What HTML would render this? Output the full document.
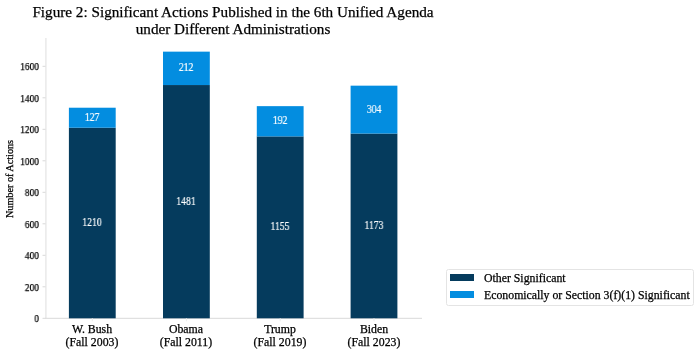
<!DOCTYPE html>
<html><head><meta charset="utf-8"><style>
html,body{margin:0;padding:0;background:#fff;}
body{width:699px;height:354px;position:relative;overflow:hidden;font-family:"Liberation Serif",serif;color:#000;}
svg{position:absolute;left:0;top:0;}
.title,.yl,.bl,.xl,.ylab,.lt{will-change:transform;-webkit-text-stroke:0.25px currentColor;}
.bl{-webkit-text-stroke:0.2px #fff;transform:scaleX(0.84);}
.yl{transform:scaleX(0.9);transform-origin:100% 50%;}
.title{position:absolute;left:0;top:4px;width:466px;text-align:center;font-size:15.2px;line-height:16.9px;color:#000;}
.yl{position:absolute;left:0;width:39px;text-align:right;font-size:10.5px;line-height:14px;}
.bl{position:absolute;width:60px;text-align:center;font-size:11.5px;line-height:14px;color:#fff;}
.xl{position:absolute;top:323px;width:80px;text-align:center;font-size:11.8px;line-height:13px;}
.ylab{position:absolute;left:-39.6px;top:171.5px;width:100px;text-align:center;font-size:10.2px;line-height:14px;transform:rotate(-90deg);}
.legend{position:absolute;left:446.2px;top:268.8px;width:247.4px;height:37.4px;border:1.2px solid #e4e4e4;border-radius:2.5px;box-sizing:border-box;}
.sw{position:absolute;left:450px;width:24px;height:7.3px;}
.lt{position:absolute;left:483.8px;font-size:11.8px;line-height:14px;}
</style></head><body>
<svg width="699" height="354" viewBox="0 0 699 354">
<line x1="45.9" y1="38" x2="45.9" y2="318.3" stroke="#e9e9e9" stroke-width="1.5"/>
<line x1="45" y1="318.3" x2="422" y2="318.3" stroke="#d9d9d9" stroke-width="1"/>
<line x1="42.5" y1="318.30" x2="45.5" y2="318.30" stroke="#d9d9d9" stroke-width="1"/>
<line x1="42.5" y1="286.80" x2="45.5" y2="286.80" stroke="#d9d9d9" stroke-width="1"/>
<line x1="42.5" y1="255.30" x2="45.5" y2="255.30" stroke="#d9d9d9" stroke-width="1"/>
<line x1="42.5" y1="223.80" x2="45.5" y2="223.80" stroke="#d9d9d9" stroke-width="1"/>
<line x1="42.5" y1="192.30" x2="45.5" y2="192.30" stroke="#d9d9d9" stroke-width="1"/>
<line x1="42.5" y1="160.80" x2="45.5" y2="160.80" stroke="#d9d9d9" stroke-width="1"/>
<line x1="42.5" y1="129.30" x2="45.5" y2="129.30" stroke="#d9d9d9" stroke-width="1"/>
<line x1="42.5" y1="97.80" x2="45.5" y2="97.80" stroke="#d9d9d9" stroke-width="1"/>
<line x1="42.5" y1="66.30" x2="45.5" y2="66.30" stroke="#d9d9d9" stroke-width="1"/>
<rect x="68.9" y="127.73" width="46.8" height="190.57" fill="#053b5d"/>
<rect x="68.9" y="107.72" width="46.8" height="20.00" fill="#038de0"/>
<line x1="92.30" y1="318.3" x2="92.30" y2="321.3" stroke="#ececec" stroke-width="1"/>
<rect x="163.0" y="85.04" width="46.8" height="233.26" fill="#053b5d"/>
<rect x="163.0" y="51.65" width="46.8" height="33.39" fill="#038de0"/>
<line x1="186.40" y1="318.3" x2="186.40" y2="321.3" stroke="#ececec" stroke-width="1"/>
<rect x="256.8" y="136.39" width="46.8" height="181.91" fill="#053b5d"/>
<rect x="256.8" y="106.15" width="46.8" height="30.24" fill="#038de0"/>
<line x1="280.20" y1="318.3" x2="280.20" y2="321.3" stroke="#ececec" stroke-width="1"/>
<rect x="350.6" y="133.55" width="46.8" height="184.75" fill="#053b5d"/>
<rect x="350.6" y="85.67" width="46.8" height="47.88" fill="#038de0"/>
<line x1="374.00" y1="318.3" x2="374.00" y2="321.3" stroke="#ececec" stroke-width="1"/>
</svg>
<div class="title">Figure 2: Significant Actions Published in the 6th Unified Agenda<br>under Different Administrations</div>
<div class="ylab">Number of Actions</div>
<div class="yl" style="top:312.00px">0</div>
<div class="yl" style="top:280.50px">200</div>
<div class="yl" style="top:249.00px">400</div>
<div class="yl" style="top:217.50px">600</div>
<div class="yl" style="top:186.00px">800</div>
<div class="yl" style="top:154.50px">1000</div>
<div class="yl" style="top:123.00px">1200</div>
<div class="yl" style="top:91.50px">1400</div>
<div class="yl" style="top:60.00px">1600</div>
<div class="bl" style="left:62.30px;top:215.01px">1210</div>
<div class="bl" style="left:62.30px;top:109.72px">127</div>
<div class="xl" style="left:52.30px">W. Bush<br>(Fall 2003)</div>
<div class="bl" style="left:156.40px;top:193.67px">1481</div>
<div class="bl" style="left:156.40px;top:60.35px">212</div>
<div class="xl" style="left:146.40px">Obama<br>(Fall 2011)</div>
<div class="bl" style="left:250.20px;top:219.34px">1155</div>
<div class="bl" style="left:250.20px;top:113.27px">192</div>
<div class="xl" style="left:240.20px">Trump<br>(Fall 2019)</div>
<div class="bl" style="left:344.00px;top:217.93px">1173</div>
<div class="bl" style="left:344.00px;top:101.61px">304</div>
<div class="xl" style="left:334.00px">Biden<br>(Fall 2023)</div>
<div class="legend"></div>
<div class="sw" style="top:273.6px;background:#053b5d"></div>
<div class="sw" style="top:290.7px;background:#038de0"></div>
<div class="lt" style="top:271.4px">Other Significant</div>
<div class="lt" style="top:288.4px">Economically or Section 3(f)(1) Significant</div>
</body></html>
